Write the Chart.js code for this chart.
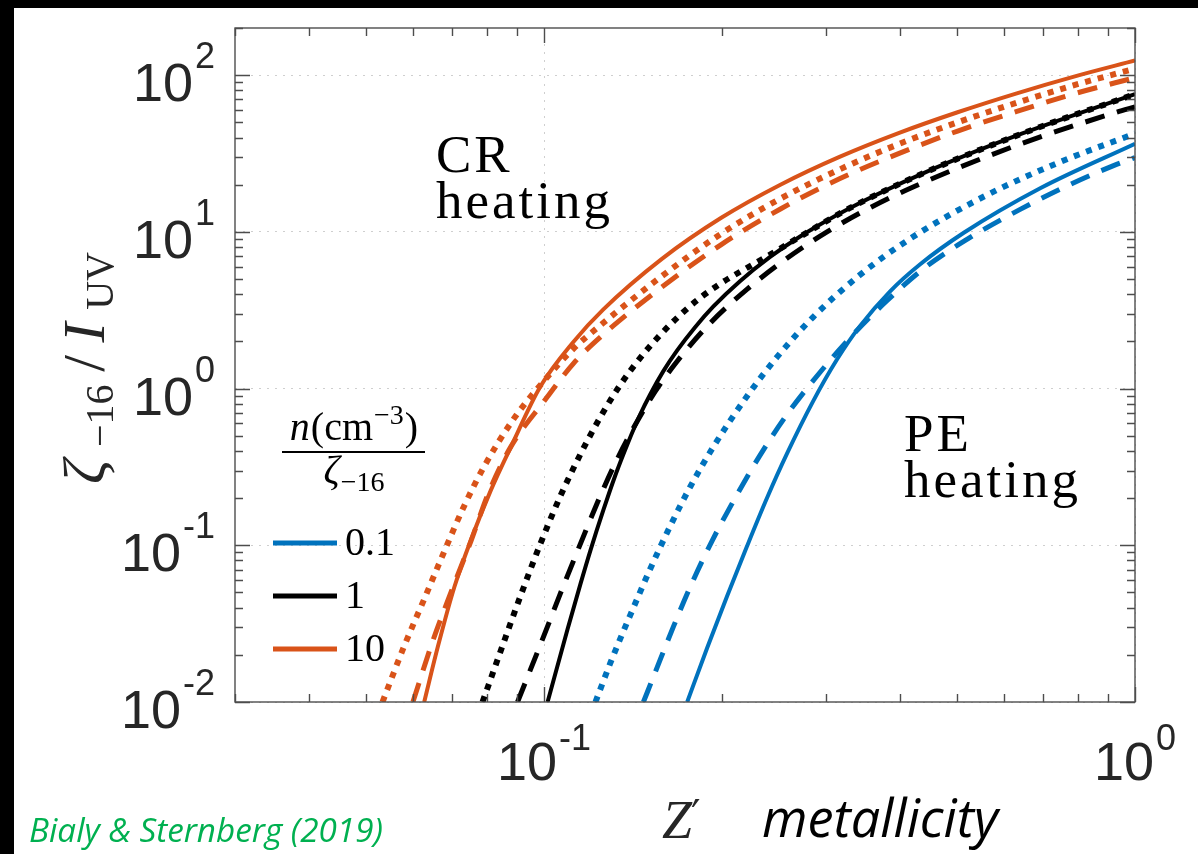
<!DOCTYPE html>
<html>
<head>
<meta charset="utf-8">
<title>Heating: CR vs PE</title>
<script src="https://cdn.jsdelivr.net/npm/chart.js@4.4.1/dist/chart.umd.min.js"></script>
<style>
  html, body { margin: 0; padding: 0; background: #fff; }
  canvas { display: block; }
</style>
</head>
<body>
<canvas id="heatChart" width="1198" height="854"></canvas>
<script>
// Z' (metallicity) and zeta_-16 / I_UV, one pair per curve
// n(cm^-3)/zeta_-16 = 10  (orange)
const zOrangeSolid = [0.0627, 0.0661, 0.0705, 0.0752, 0.0813, 0.0879, 0.0986, 0.1122, 0.1259, 0.1585, 0.1995, 0.2512, 0.3162, 0.398, 0.501, 0.631, 0.794, 1.0];
const vOrangeSolid = [0.01, 0.0224, 0.054, 0.108, 0.225, 0.425, 1.03, 1.99, 3.19, 6.75, 12.3, 20, 30.1, 42.7, 58, 76.6, 98.6, 124];
const zOrangeDot = [0.0533, 0.0579, 0.0626, 0.0676, 0.0731, 0.0791, 0.0891, 0.1, 0.1122, 0.1259, 0.1585, 0.1995, 0.2512, 0.3162, 0.398, 0.501, 0.631, 0.794, 1.0];
const vOrangeDot = [0.01, 0.0224, 0.0447, 0.089, 0.175, 0.316, 0.65, 1.12, 1.8, 2.62, 5.24, 9.75, 16.3, 25, 36.3, 50, 66.7, 86.9, 110];
const zOrangeDash = [0.060, 0.0649, 0.0695, 0.0752, 0.0805, 0.0877, 0.1, 0.1122, 0.1259, 0.1585, 0.1995, 0.2512, 0.3162, 0.398, 0.501, 0.631, 0.794, 1.0];
const vOrangeDash = [0.01, 0.0248, 0.0495, 0.106, 0.215, 0.42, 0.83, 1.45, 2.21, 4.46, 8.3, 14.0, 21.8, 31.6, 44, 58.7, 76.6, 96.4];

// n/zeta = 1  (black)
const zBlackSolid = [0.1014, 0.1096, 0.1153, 0.1198, 0.1260, 0.1320, 0.1384, 0.1455, 0.1513, 0.1591, 0.1680, 0.1803, 0.1933, 0.2148, 0.2413, 0.2712, 0.3295, 0.4408, 0.6431, 1.0];
const vBlackSolid = [0.01, 0.0291, 0.0569, 0.0925, 0.1674, 0.279, 0.442, 0.686, 0.921, 1.288, 1.754, 2.475, 3.333, 4.863, 6.92, 9.35, 14.21, 23.89, 42.3, 75.7];
const zBlackDot = [0.0787, 0.0844, 0.0913, 0.0987, 0.1066, 0.1153, 0.1246, 0.1346, 0.1455, 0.1573, 0.1701, 0.1838, 0.1986, 0.2148, 0.2413, 0.2712, 0.3295, 0.4408, 0.6431, 1.0];
const vBlackDot = [0.01, 0.021, 0.0478, 0.1033, 0.2063, 0.3826, 0.6595, 1.056, 1.571, 2.203, 2.958, 3.798, 4.667, 5.569, 7.15, 9.32, 14.21, 23.89, 42.3, 75.7];
const zBlackDash = [0.0902, 0.0994, 0.1066, 0.1144, 0.1246, 0.1336, 0.1513, 0.1680, 0.1910, 0.2207, 0.2577, 0.3012, 0.3546, 0.4241, 0.6356, 0.9307, 1.0];
const vBlackDash = [0.01, 0.0251, 0.0493, 0.0955, 0.2078, 0.3672, 0.857, 1.494, 2.614, 4.311, 6.783, 10.0, 14.13, 19.56, 36.07, 58.02, 62.8];

// n/zeta = 0.1  (blue)
const zBlueSolid = [0.1747, 0.1888, 0.2042, 0.2207, 0.2385, 0.2577, 0.2851, 0.3131, 0.3424, 0.3848, 0.4325, 0.5132, 0.6924, 1.0];
const vBlueSolid = [0.01, 0.0221, 0.0476, 0.0993, 0.2011, 0.3843, 0.826, 1.532, 2.504, 4.161, 6.19, 9.87, 19.05, 36.5];
const zBlueDot = [0.1222, 0.1295, 0.1400, 0.1513, 0.1636, 0.1768, 0.1933, 0.2207, 0.2480, 0.2851, 0.3424, 0.4159, 0.5568, 0.7511, 1.0];
const vBlueDot = [0.01, 0.01775, 0.036, 0.0708, 0.1332, 0.2365, 0.4233, 0.897, 1.592, 2.851, 5.312, 9.02, 16.91, 28.18, 42.37];
const zBlueDash = [0.1473, 0.1543, 0.1655, 0.1768, 0.1926, 0.2123, 0.2321, 0.2577, 0.2932, 0.3295, 0.3804, 0.4408, 0.5253, 0.6381, 0.7630, 0.9198, 1.0];
const vBlueDash = [0.01, 0.01555, 0.03014, 0.05431, 0.1072, 0.2116, 0.3762, 0.6828, 1.271, 2.109, 3.634, 5.904, 9.18, 13.86, 19.45, 26.49, 29.8];

// axes
const xTickValues = [0.1, 1];
const xTickExps = ['-1', '0'];
const yTickValues = [0.01, 0.1, 1, 10, 100];
const yTickExps = ['-2', '-1', '0', '1', '2'];
const legendLabels = ['0.1', '1', '10'];

const BLUE = '#0072BD', BLACK = '#000000', ORANGE = '#D95319';
const AXIS = '#4d4d4d', TXT = '#262626';
const SERIF = '"Liberation Serif", "DejaVu Serif", serif';
const SANS = '"Liberation Sans", Arial, sans-serif';

const pts = (zs, vs) => zs.map((z, i) => ({ x: z, y: vs[i] }));

const lineStyle = {
    solid: { borderWidth: 4, borderDash: [] },
    dashed: { borderWidth: 5, borderDash: [20, 13] },
    dotted: { borderWidth: 6, borderDash: [6, 7] }
};

const curve = (zs, vs, color, style) => ({
    data: pts(zs, vs),
    borderColor: color,
    borderWidth: lineStyle[style].borderWidth,
    borderDash: lineStyle[style].borderDash,
    borderCapStyle: 'butt',
    pointRadius: 0,
    fill: false,
    cubicInterpolationMode: 'monotone'
});

// first dataset ends up on top
const datasets = [
    curve(zOrangeDot, vOrangeDot, ORANGE, 'dotted'),
    curve(zOrangeDash, vOrangeDash, ORANGE, 'dashed'),
    curve(zBlackDot, vBlackDot, BLACK, 'dotted'),
    curve(zBlackDash, vBlackDash, BLACK, 'dashed'),
    curve(zBlueDot, vBlueDot, BLUE, 'dotted'),
    curve(zBlueDash, vBlueDash, BLUE, 'dashed'),
    curve(zOrangeSolid, vOrangeSolid, ORANGE, 'solid'),
    curve(zBlackSolid, vBlackSolid, BLACK, 'solid'),
    curve(zBlueSolid, vBlueSolid, BLUE, 'solid')
];

const isDecade = (v) => Math.abs(Math.log10(v) - Math.round(Math.log10(v))) < 1e-6;

// draws a run of [text, font, dy] pieces starting at x
function drawRun(c, parts, x, y, gap) {
    parts.forEach(([t, f, dy]) => {
        c.font = f;
        c.fillText(t, x, y + dy);
        x += c.measureText(t).width + (gap || 0);
    });
}
function runWidth(c, parts, gap) {
    let w = 0;
    parts.forEach(([t, f]) => { c.font = f; w += c.measureText(t).width; });
    return w + (gap || 0) * (parts.length - 1);
}

function powLabel(c, x, y, exp, anchor, lift) {
    c.font = '54px ' + SANS;
    const w1 = c.measureText('10').width;
    c.font = '36px ' + SANS;
    const w2 = c.measureText(exp).width;
    const total = w1 + 2 + w2;
    const x0 = anchor === 'right' ? x - total : x - total / 2;
    c.font = '54px ' + SANS;
    c.fillText('10', x0, y);
    c.font = '36px ' + SANS;
    c.fillText(exp, x0 + w1 + 2, y - lift);
}

function fitFont(c, text, family, style, target) {
    c.font = style + ' 40px ' + family;
    return 40 * target / c.measureText(text).width;
}

const decor = {
    id: 'decor',
    beforeDraw(chart) {
        const c = chart.ctx;
        c.save();
        c.fillStyle = '#ffffff';
        c.fillRect(0, 0, chart.width, chart.height);
        c.fillStyle = '#000000';
        c.fillRect(0, 0, chart.width, 8);
        c.fillRect(0, 0, 14, chart.height);
        c.restore();
    },
    afterDraw(chart) {
        const c = chart.ctx, a = chart.chartArea;
        const xs = chart.scales.x, ys = chart.scales.y;
        c.save();

        // axes box
        c.strokeStyle = AXIS;
        c.lineWidth = 1.4;
        c.strokeRect(a.left, a.top, a.right - a.left, a.bottom - a.top);

        // inward ticks on all four sides
        c.beginPath();
        for (let d = -2; d <= 0; d++) {
            for (let m = 1; m <= 9; m++) {
                const v = m * Math.pow(10, d);
                if (v < xs.min - 1e-9 || v > xs.max + 1e-9) continue;
                const px = Math.round(xs.getPixelForValue(v)) + 0.5;
                const len = m === 1 ? 15 : 8;
                c.moveTo(px, a.bottom); c.lineTo(px, a.bottom - len);
                c.moveTo(px, a.top); c.lineTo(px, a.top + len);
            }
        }
        for (let d = -2; d <= 2; d++) {
            for (let m = 1; m <= 9; m++) {
                const v = m * Math.pow(10, d);
                if (v < ys.min - 1e-9 || v > ys.max + 1e-9) continue;
                const py = Math.round(ys.getPixelForValue(v)) + 0.5;
                const len = m === 1 ? 15 : 8;
                c.moveTo(a.left, py); c.lineTo(a.left + len, py);
                c.moveTo(a.right, py); c.lineTo(a.right - len, py);
            }
        }
        c.stroke();

        // tick labels
        c.fillStyle = TXT;
        c.textBaseline = 'alphabetic';
        c.textAlign = 'left';
        yTickValues.forEach((v, i) => {
            const py = ys.getPixelForValue(v);
            powLabel(c, 215, py + 26, yTickExps[i], 'right', 33);
        });
        xTickValues.forEach((v, i) => {
            const px = xs.getPixelForValue(v);
            powLabel(c, px, a.bottom + 78, xTickExps[i], 'center', 30);
        });

        // y axis title, rotated
        c.fillStyle = TXT;
        c.save();
        c.translate(104, 368);
        c.rotate(-Math.PI / 2);
        const yTitle = [
            ['ζ', 'italic 60px ' + SERIF, 0],
            ['−16', '40px ' + SERIF, 9],
            ['/', '60px ' + SERIF, 0],
            ['I', 'italic 60px ' + SERIF, 0],
            ['UV', '40px ' + SERIF, 9]
        ];
        const rawW = runWidth(c, yTitle, 0);
        const gap = Math.max(0, (232 - rawW) / 4);
        drawRun(c, yTitle, -(rawW + gap * 4) / 2, 0, gap);
        c.restore();

        // x axis title
        c.fillStyle = TXT;
        drawRun(c, [['Z', 'italic 54px ' + SERIF, 0], ['′', '42px "DejaVu Serif", serif', -8]], 662, 838, -1);
        c.fillStyle = '#000000';
        const mf = fitFont(c, 'metallicity', '"Open Sans", sans-serif', 'italic', 236);
        c.font = 'italic ' + mf + 'px "Open Sans", sans-serif';
        c.fillText('metallicity', 762, 837);

        // citation
        c.fillStyle = '#00B050';
        const cf = fitFont(c, 'Bialy & Sternberg (2019)', '"Open Sans", sans-serif', 'italic', 354);
        c.font = 'italic ' + cf + 'px "Open Sans", sans-serif';
        c.fillText('Bialy & Sternberg (2019)', 29, 842);

        // region annotations
        c.fillStyle = '#000000';
        c.letterSpacing = '3px';
        c.font = '53px ' + SERIF;
        c.fillText('CR', 436, 172);
        c.fillText('heating', 436, 218);
        c.fillText('PE', 904, 451);
        c.fillText('heating', 904, 497);
        c.letterSpacing = '0px';

        // legend title: n(cm^-3) / zeta_-16
        const num = [
            ['n', 'italic 40px ' + SERIF, 0],
            ['(cm', '40px ' + SERIF, 0],
            ['−3', '28px ' + SERIF, -16],
            [')', '40px ' + SERIF, 0]
        ];
        const numW = runWidth(c, num, 1);
        drawRun(c, num, 354 - numW / 2, 440, 1);
        c.fillRect(282, 451, 143, 2);
        const den = [
            ['ζ', 'italic 40px ' + SERIF, 0],
            ['−16', '28px ' + SERIF, 8]
        ];
        const denW = runWidth(c, den, 1);
        drawRun(c, den, 354 - denW / 2, 483, 1);

        // legend entries
        const legendColors = [BLUE, BLACK, ORANGE];
        const legendY = [543, 596, 649];
        legendLabels.forEach((lab, i) => {
            c.strokeStyle = legendColors[i];
            c.lineWidth = 5;
            c.setLineDash([]);
            c.beginPath();
            c.moveTo(273, legendY[i]);
            c.lineTo(337, legendY[i]);
            c.stroke();
            c.fillStyle = '#000000';
            c.font = '40px ' + SERIF;
            c.fillText(lab, 345, legendY[i] + 12);
        });

        c.restore();
    }
};

new Chart(document.getElementById('heatChart'), {
    type: 'line',
    data: { datasets: datasets },
    options: {
        responsive: false,
        animation: false,
        layout: { padding: { left: 235, top: 28, right: 63, bottom: 152 } },
        plugins: { legend: { display: false }, tooltip: { enabled: false } },
        scales: {
            x: {
                type: 'logarithmic',
                min: 0.03,
                max: 1,
                ticks: { display: false },
                border: { display: false, dash: [2, 6] },
                grid: {
                    drawTicks: false,
                    lineWidth: 1,
                    color: (ctx) => (ctx.tick && isDecade(ctx.tick.value) ? '#cfcfcf' : 'rgba(0,0,0,0)')
                }
            },
            y: {
                type: 'logarithmic',
                min: 0.01,
                max: 200,
                ticks: { display: false },
                border: { display: false, dash: [2, 6] },
                grid: {
                    drawTicks: false,
                    lineWidth: 1,
                    color: (ctx) => (ctx.tick && isDecade(ctx.tick.value) ? '#cfcfcf' : 'rgba(0,0,0,0)')
                }
            }
        }
    },
    plugins: [decor]
});
</script>
</body>
</html>
